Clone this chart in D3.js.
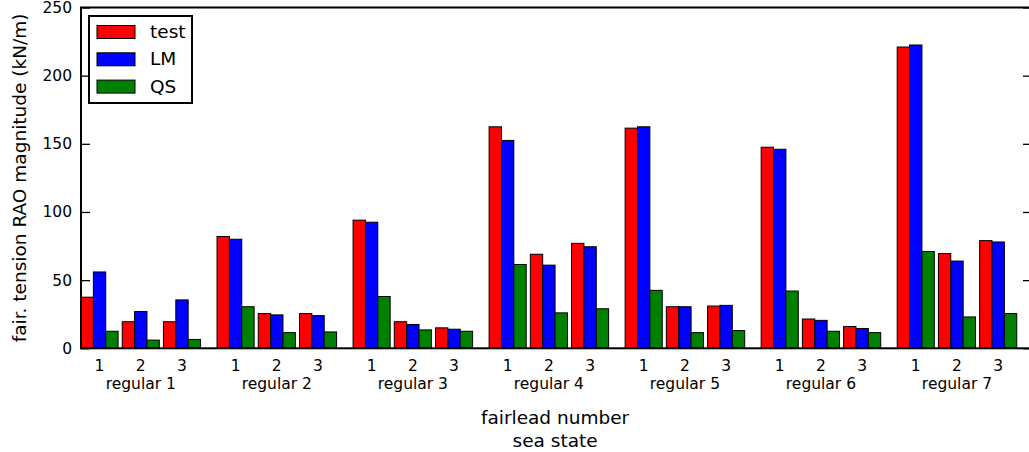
<!DOCTYPE html>
<html>
<head>
<meta charset="utf-8">
<script src="https://cdn.jsdelivr.net/npm/d3@7"></script>
<style>
  html, body { margin: 0; padding: 0; background: #fff; }
  svg { display: block; font-family: "DejaVu Sans", sans-serif; }
</style>
</head>
<body>
<svg id="chart" width="1029" height="452"></svg>
<script>
const seaStates = ["regular 1", "regular 2", "regular 3", "regular 4", "regular 5", "regular 6", "regular 7"];
const fairleads = ["1", "2", "3"];
const seriesNames = ["test", "LM", "QS"];
const seriesColors = ["#ff0000", "#0000ff", "#008000"];
// values per sea state, 3 fairleads each
const testVals = [37.5, 19.5, 19.5, 82, 25.5, 25.5, 94, 19.5, 15, 162.5, 69, 77, 161.5, 30.5, 31, 147.5, 21.5, 16, 221, 69.5, 79];
const lmVals   = [56, 27, 35.5, 80, 24.5, 24, 92.5, 17.5, 14, 152.5, 61, 74.5, 162.5, 30.5, 31.5, 146, 20.5, 14.5, 222.5, 64, 78];
const qsVals   = [12.5, 6, 6.5, 30.5, 11.5, 12, 38, 13.5, 12.5, 61.5, 26, 29, 42.5, 11.5, 13, 42, 12.5, 11.5, 71, 23, 25.5];
const yTicks = [0, 50, 100, 150, 200, 250];

(function () {
const series = [testVals, lmVals, qsVals];
const svg = d3.select("#chart");
const mLeft = 81, mRight = 1032, mTop = 7.5, mBottom = 348.3;
const groupStep = 3.3, barW = 0.3;

const x = d3.scaleLinear().domain([0, 23.07]).range([mLeft, mRight]);
const y = d3.scaleLinear().domain([0, 250]).range([mBottom, mTop]);

// bars
const bars = [];
seaStates.forEach((g, gi) => {
  fairleads.forEach((f, fi) => {
    series.forEach((vals, si) => {
      bars.push({ pos: gi * groupStep + fi + si * barW, v: vals[gi * 3 + fi], c: seriesColors[si] });
    });
  });
});
svg.append("g").selectAll("rect").data(bars).join("rect")
  .attr("x", d => x(d.pos))
  .attr("y", d => y(d.v))
  .attr("width", x(barW) - x(0))
  .attr("height", d => y(0) - y(d.v))
  .attr("fill", d => d.c)
  .attr("stroke", "#000")
  .attr("stroke-width", 1);

// y axes (ticks inside)
const yl = svg.append("g").attr("transform", `translate(${mLeft},0)`)
  .call(d3.axisLeft(y).tickValues(yTicks).tickSize(-9).tickPadding(9));
const yr = svg.append("g").attr("transform", `translate(${mRight},0)`)
  .call(d3.axisRight(y).tickValues(yTicks).tickSize(-9).tickFormat(""));
[yl, yr].forEach(a => {
  a.select(".domain").remove();
  a.selectAll("line").attr("stroke", "#000").attr("stroke-width", 1.3);
});
yl.selectAll("text").attr("font-size", "15.5px").attr("font-family", "DejaVu Sans").attr("fill", "#000");

// spines
svg.append("rect").attr("x", mLeft).attr("y", mTop).attr("width", mRight - mLeft).attr("height", mBottom - mTop)
  .attr("fill", "none").attr("stroke", "#000").attr("stroke-width", 2);

// x labels
const fl = [];
seaStates.forEach((g, gi) => fairleads.forEach((f, fi) => fl.push({ pos: gi * groupStep + fi + 1.5 * barW, t: f })));
svg.append("g").selectAll("text").data(fl).join("text")
  .attr("x", d => x(d.pos)).attr("y", 370.5)
  .attr("text-anchor", "middle").attr("font-size", "15.5px").text(d => d.t);
svg.append("g").selectAll("text").data(seaStates).join("text")
  .attr("x", (d, i) => x(i * groupStep + 1 + 1.5 * barW)).attr("y", 388.5)
  .attr("text-anchor", "middle").attr("font-size", "15.5px").text(d => d);

svg.append("text").attr("x", x(11.5)).attr("y", 423.5).attr("text-anchor", "middle")
  .attr("font-size", "18.5px").text("fairlead number");
svg.append("text").attr("x", x(11.5)).attr("y", 446.5).attr("text-anchor", "middle")
  .attr("font-size", "18.5px").text("sea state");

svg.append("text").attr("transform", `translate(26,${(mTop + mBottom) / 2}) rotate(-90)`)
  .attr("text-anchor", "middle").attr("font-size", "18.5px")
  .text("fair. tension RAO magnitude (kN/m)");

// legend
const lg = svg.append("g");
lg.append("rect").attr("x", 89).attr("y", 16).attr("width", 103).attr("height", 87)
  .attr("fill", "#fff").attr("stroke", "#000").attr("stroke-width", 2);
seriesNames.forEach((n, i) => {
  const cy = 32 + i * 27.3;
  lg.append("rect").attr("x", 97).attr("y", cy - 6.5).attr("width", 38).attr("height", 13)
    .attr("fill", seriesColors[i]).attr("stroke", "#000").attr("stroke-width", 1);
  lg.append("text").attr("x", 150).attr("y", cy + 6).attr("font-size", "18.5px").text(n);
});
})();
</script>
</body>
</html>
